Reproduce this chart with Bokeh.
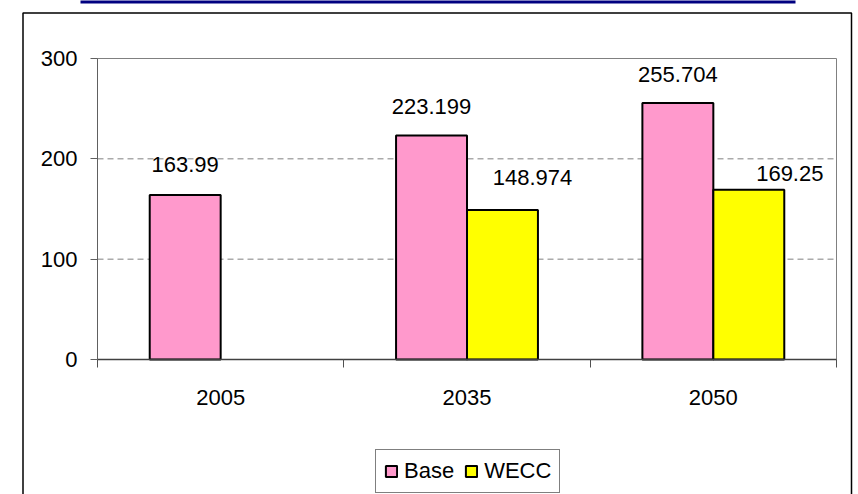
import numpy as np
from bokeh.plotting import figure
from bokeh.models import (ColumnDataSource, Range1d, FixedTicker, LabelSet,
                          BoxAnnotation, Legend, LegendItem)
from bokeh.core.properties import value
from bokeh.embed import file_html
from bokeh.resources import INLINE

# ---- data -------------------------------------------------------------
years = ["2005", "2035", "2050"]
base_values = [163.99, 223.199, 255.704]
wecc_values = [None, 148.974, 169.25]
y_ticks = [0, 100, 200, 300]
grid_ticks = [100, 200]

# data-label nudges in pixels (x right, y up above the bar top)
base_label_dx = [0, 0, 0]
base_label_dy = [23, 22, 21]
wecc_label_dx = [0, 30, 41]
wecc_label_dy = [0, 25, 9]

# ---- layout -----------------------------------------------------------
W, H = 858, 494
# plot area (inside the chart box) in canvas pixels
AREA_L, AREA_R, AREA_T, AREA_B = 97, 836, 58, 359
BAR_W = 0.288
FONT = "Liberation Sans"
FONT_SIZE = "22px"
PINK = "#FF99CC"
YELLOW = "#FFFF00"
GREY = "#808080"

X0, X1 = -0.5, len(years) - 0.5
Y0, Y1 = 0, 300


def x_at(px):
    return X0 + (px - AREA_L) * (X1 - X0) / (AREA_R - AREA_L)


def y_at(py):
    return Y0 + (AREA_B - py) * (Y1 - Y0) / (AREA_B - AREA_T)


# the frame covers the whole canvas; axes are pinned inside it
p = figure(width=W, height=H, output_backend="svg", toolbar_location=None,
           title=None,
           x_range=Range1d(x_at(0), x_at(W)), y_range=Range1d(y_at(H), y_at(0)),
           min_border=0, background_fill_color="white",
           border_fill_color="white", outline_line_color=None)

# ---- axes -------------------------------------------------------------
xa = p.xaxis[0]
xa.fixed_location = Y0
xa.bounds = (X0, X1)
xa.ticker = FixedTicker(ticks=list(range(len(years))),
                        minor_ticks=[i - 0.5 for i in range(len(years) + 1)])
xa.major_label_overrides = {i: y for i, y in enumerate(years)}
xa.major_tick_out = 0
xa.major_tick_in = 0
xa.minor_tick_out = 8
xa.minor_tick_in = 0
xa.minor_tick_line_color = "#505050"
xa.axis_line_color = "#404040"
xa.axis_line_width = 1.5
xa.major_label_standoff = 22
xa.major_label_text_font = FONT
xa.major_label_text_font_size = FONT_SIZE
xa.major_label_text_color = "black"

ya = p.yaxis[0]
ya.fixed_location = X0
ya.bounds = (Y0, Y1)
ya.ticker = FixedTicker(ticks=y_ticks)
ya.major_tick_out = 7
ya.major_tick_in = 0
ya.minor_tick_out = 0
ya.minor_tick_in = 0
ya.axis_line_color = "#606060"
ya.major_tick_line_color = "#606060"
ya.major_label_standoff = 13
ya.major_label_text_font = FONT
ya.major_label_text_font_size = FONT_SIZE
ya.major_label_text_color = "black"

p.xgrid.visible = False
p.ygrid.visible = False

# plot-area frame (grey) and dashed value gridlines
p.add_layout(BoxAnnotation(left=X0, right=X1, bottom=Y0, top=Y1,
                           fill_alpha=0, line_color=GREY, line_alpha=1,
                           line_width=1, level="underlay"))
p.multi_line(xs=[[X0, X1] for _ in grid_ticks], ys=[[g, g] for g in grid_ticks],
             line_color=GREY, line_dash="6 4", line_width=1, level="underlay")

# ---- bars -------------------------------------------------------------
idx = np.arange(len(years))
base_src = ColumnDataSource(dict(x=idx - BAR_W / 2, top=base_values))
wecc_keep = [i for i, v in enumerate(wecc_values) if v is not None]
wecc_src = ColumnDataSource(dict(x=[i + BAR_W / 2 for i in wecc_keep],
                                 top=[wecc_values[i] for i in wecc_keep]))

r_base = p.vbar(x="x", top="top", bottom=0, width=BAR_W, source=base_src,
                fill_color=PINK, line_color="black", line_width=2)
r_wecc = p.vbar(x="x", top="top", bottom=0, width=BAR_W, source=wecc_src,
                fill_color=YELLOW, line_color="black", line_width=2)

# ---- value labels -------------------------------------------------------
lab_x, lab_y, lab_t, lab_dx, lab_dy = [], [], [], [], []
for i, v in enumerate(base_values):
    lab_x.append(i - BAR_W / 2)
    lab_y.append(v)
    lab_t.append(str(v))
    lab_dx.append(base_label_dx[i])
    lab_dy.append(base_label_dy[i])
for i in wecc_keep:
    v = wecc_values[i]
    lab_x.append(i + BAR_W / 2)
    lab_y.append(v)
    lab_t.append(str(v))
    lab_dx.append(wecc_label_dx[i])
    lab_dy.append(wecc_label_dy[i])

lab_src = ColumnDataSource(dict(x=lab_x, y=lab_y, text=lab_t, dx=lab_dx, dy=lab_dy))
labels = LabelSet(x="x", y="y", text="text", x_offset="dx", y_offset="dy",
                  source=lab_src, text_align="center", text_baseline="alphabetic",
                  text_font=value(FONT), text_font_size=value(FONT_SIZE),
                  text_color="black")
p.add_layout(labels)

# ---- legend -------------------------------------------------------------
legend = Legend(items=[LegendItem(label="Base", renderers=[r_base]),
                       LegendItem(label="WECC", renderers=[r_wecc])],
                orientation="horizontal",
                location=(375, H - 493),
                border_line_color="black", border_line_width=1,
                background_fill_color="white", background_fill_alpha=1,
                padding=8, spacing=10, label_standoff=6, margin=0,
                glyph_width=14, glyph_height=14,
                label_text_font=FONT, label_text_font_size=FONT_SIZE,
                label_text_color="black")
p.add_layout(legend)

# ---- chart box and the rule above it -------------------------------------
p.add_layout(BoxAnnotation(left=x_at(22.5), right=x_at(851), top=y_at(12.5),
                           bottom=y_at(560), fill_alpha=0, line_color="black",
                           line_alpha=1, line_width=1.5))
p.add_layout(BoxAnnotation(left=x_at(80), right=x_at(795), top=y_at(-2),
                           bottom=y_at(3), fill_color="#000080", fill_alpha=1,
                           line_alpha=0))

open("out.html", "w").write(file_html(p, INLINE))
